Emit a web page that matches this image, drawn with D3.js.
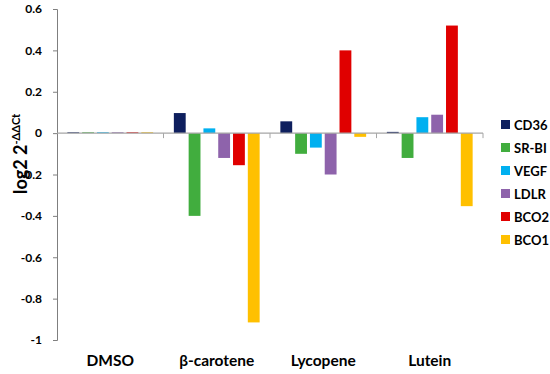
<!DOCTYPE html>
<html>
<head>
<meta charset="utf-8">
<script src="https://cdn.jsdelivr.net/npm/d3@7"></script>
<style>
  body { margin: 0; background: #fff; }
  svg text { font-family: Lato, "Open Sans", sans-serif; font-weight: bold; fill: #000; }
</style>
</head>
<body>
<svg id="chart" width="550" height="374"></svg>
<script>
"use strict";

var treatments = ["DMSO", "β-carotene", "Lycopene", "Lutein"];
var genes = ["CD36", "SR-BI", "VEGF", "LDLR", "BCO2", "BCO1"];
var geneColors = ["#0e1f5e", "#41ad3e", "#00b0f0", "#8e63ab", "#e00000", "#ffc000"];
// one array per treatment, values in gene order
var dmso = [0.004, 0.004, 0.004, 0.004, 0.004, 0.004];
var betaCarotene = [0.097, -0.40, 0.023, -0.12, -0.155, -0.915];
var lycopene = [0.057, -0.10, -0.07, -0.20, 0.40, -0.018];
var lutein = [0.006, -0.12, 0.077, 0.089, 0.52, -0.353];
var yTicks = [0.6, 0.4, 0.2, 0, -0.2, -0.4, -0.6, -0.8, -1];

var data = [dmso, betaCarotene, lycopene, lutein].map(function(vals, i) {
	return { treatment: treatments[i], values: vals };
});

var svg = d3.select("#chart");
var margin = { left: 57, top: 9 };
var width = 426, height = 331;

var x0 = d3.scaleBand().domain(treatments).range([0, width]);
var x1 = d3.scaleBand().domain(genes).range([0, x0.bandwidth()]).paddingInner(0.2).paddingOuter(0.7);
var y = d3.scaleLinear().domain([-1, 0.6]).range([height, 0]);
var color = d3.scaleOrdinal().domain(genes).range(geneColors);

var g = svg.append("g")
	.attr("transform", "translate(" + margin.left + "," + margin.top + ")");

// y axis
var yAxis = g.append("g")
	.attr("class", "axis axis--y")
	.call(d3.axisLeft(y).tickValues(yTicks).tickSize(4).tickPadding(11)
		.tickFormat(function(d) { return d === 0 ? "0" : String(d); }));
yAxis.select(".domain").attr("stroke", "#7f7f7f");
yAxis.selectAll(".tick line").attr("stroke", "#7f7f7f");
yAxis.selectAll("text").style("font-size", "12px");

// bars
var groups = g.selectAll(".treat").data(data)
	.enter().append("g")
		.attr("class", "treat")
		.attr("transform", function(d) { return "translate(" + x0(d.treatment) + ",0)"; });

groups.selectAll("rect")
	.data(function(d) { return d.values.map(function(v, i) { return { gene: genes[i], value: v }; }); })
	.enter().append("rect")
		.attr("x", function(d) { return x1(d.gene); })
		.attr("y", function(d) { return y(Math.max(0, d.value)); })
		.attr("width", x1.bandwidth())
		.attr("height", function(d) { return Math.abs(y(d.value) - y(0)); })
		.attr("fill", function(d) { return color(d.gene); });

// zero line with category ticks
var xAxis = g.append("g")
	.attr("class", "axis axis--x")
	.attr("transform", "translate(0," + y(0) + ")");
xAxis.append("line")
	.attr("x1", 0).attr("x2", width)
	.attr("stroke", "#a6a6a6").attr("stroke-width", 1.2);
xAxis.selectAll(".sep").data(treatments.slice(1).concat(["end"]))
	.enter().append("line")
		.attr("class", "sep")
		.attr("x1", function(d, i) { return x0.step() * (i + 1); })
		.attr("x2", function(d, i) { return x0.step() * (i + 1); })
		.attr("y1", 0).attr("y2", 5)
		.attr("stroke", "#a6a6a6");

// category labels
g.selectAll(".cat").data(treatments)
	.enter().append("text")
		.attr("class", "cat")
		.attr("x", function(d) { return x0(d) + x0.bandwidth() / 2; })
		.attr("y", 357)
		.attr("text-anchor", "middle")
		.style("font-size", "15.5px")
		.text(function(d) { return d; });

// y label
var ylab = svg.append("text")
	.attr("text-anchor", "middle")
	.attr("transform", "translate(27,154)rotate(-90)")
	.style("font-size", "18px");
ylab.append("tspan").text("log2 2");
ylab.append("tspan").attr("dy", "-7").style("font-size", "11px").text("-ΔΔCt");

// legend
var legend = svg.selectAll(".legend").data(genes)
	.enter().append("g")
		.attr("class", "legend")
		.attr("transform", function(d, i) { return "translate(501," + (120 + i * 23) + ")"; });
legend.append("rect")
	.attr("width", 9).attr("height", 9)
	.attr("fill", function(d) { return color(d); });
legend.append("text")
	.attr("x", 13).attr("y", 9.5)
	.style("font-size", "13px")
	.text(function(d) { return d; });
</script>
</body>
</html>
